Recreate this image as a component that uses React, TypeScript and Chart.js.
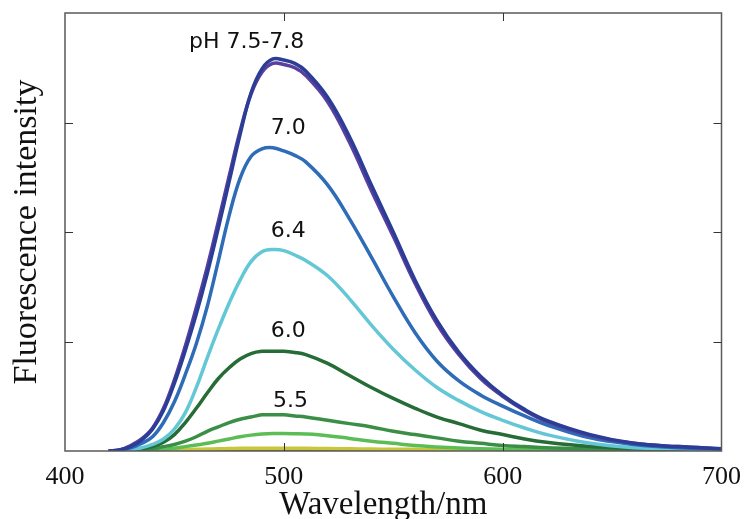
import React, { useEffect, useRef } from "react";
import { Chart, registerables } from "chart.js";

Chart.register(...registerables);

// Wavelength grid (nm)
const wavelengths = [420, 425, 430, 435, 440, 445, 450, 455, 460, 465, 470, 475, 480, 485, 490, 495, 500, 505, 510, 520, 530, 540, 550, 560, 570, 580, 590, 600, 610, 620, 640, 660, 680, 700];

// Fluorescence intensity (arbitrary units, axis 0..4)
const ph78 = [0, 0.01, 0.04, 0.1, 0.2, 0.37, 0.62, 0.92, 1.25, 1.62, 2.03, 2.46, 2.89, 3.27, 3.49, 3.58, 3.57, 3.54, 3.47, 3.23, 2.87, 2.43, 2.0, 1.56, 1.19, 0.9, 0.68, 0.51, 0.38, 0.28, 0.15, 0.07, 0.04, 0.02];
const ph75 = [0, 0.01, 0.05, 0.11, 0.21, 0.39, 0.65, 0.96, 1.31, 1.68, 2.09, 2.51, 2.92, 3.26, 3.46, 3.54, 3.53, 3.5, 3.43, 3.19, 2.82, 2.38, 1.96, 1.53, 1.16, 0.88, 0.66, 0.5, 0.37, 0.27, 0.14, 0.07, 0.04, 0.02];
const ph70 = [0, 0.01, 0.03, 0.07, 0.13, 0.26, 0.45, 0.7, 0.98, 1.32, 1.73, 2.15, 2.49, 2.69, 2.76, 2.77, 2.74, 2.7, 2.64, 2.43, 2.12, 1.77, 1.41, 1.08, 0.82, 0.64, 0.51, 0.41, 0.32, 0.24, 0.12, 0.06, 0.03, 0.02];
const ph64 = [0, 0, 0.01, 0.03, 0.06, 0.11, 0.2, 0.35, 0.58, 0.85, 1.11, 1.35, 1.56, 1.73, 1.82, 1.84, 1.83, 1.79, 1.74, 1.6, 1.39, 1.15, 0.93, 0.74, 0.58, 0.46, 0.36, 0.28, 0.21, 0.15, 0.07, 0.03, 0.02, 0.01];
const ph60 = [0, 0, 0.01, 0.02, 0.04, 0.08, 0.15, 0.26, 0.39, 0.53, 0.66, 0.76, 0.84, 0.89, 0.91, 0.91, 0.91, 0.9, 0.88, 0.8, 0.69, 0.58, 0.48, 0.39, 0.31, 0.25, 0.19, 0.15, 0.11, 0.08, 0.04, 0.02, 0.01, 0.01];
const ph55 = [0, 0, 0.005, 0.01, 0.02, 0.04, 0.06, 0.09, 0.13, 0.18, 0.22, 0.26, 0.29, 0.31, 0.33, 0.33, 0.33, 0.32, 0.31, 0.28, 0.25, 0.22, 0.18, 0.15, 0.12, 0.09, 0.07, 0.05, 0.04, 0.03, 0.02, 0.01, 0.005, 0];
const ph50 = [0, 0, 0, 0.005, 0.01, 0.015, 0.025, 0.04, 0.055, 0.07, 0.09, 0.11, 0.13, 0.145, 0.155, 0.16, 0.16, 0.158, 0.155, 0.14, 0.115, 0.09, 0.07, 0.05, 0.037, 0.027, 0.02, 0.015, 0.012, 0.01, 0.007, 0.005, 0.003, 0];
const ph45 = [0, 0, 0, 0.002, 0.005, 0.008, 0.01, 0.013, 0.016, 0.018, 0.02, 0.022, 0.024, 0.025, 0.025, 0.025, 0.025, 0.025, 0.024, 0.022, 0.02, 0.018, 0.016, 0.015, 0.013, 0.011, 0.01, 0.009, 0.007, 0.006, 0.004, 0.003, 0.002, 0];
const ph40 = [0, 0, 0, 0.001, 0.002, 0.003, 0.004, 0.005, 0.006, 0.007, 0.008, 0.008, 0.009, 0.009, 0.009, 0.009, 0.009, 0.009, 0.009, 0.008, 0.008, 0.007, 0.006, 0.005, 0.005, 0.004, 0.003, 0.003, 0.002, 0.002, 0.001, 0.001, 0, 0];

const seriesValues = [ph78, ph75, ph70, ph64, ph60, ph55, ph50, ph45, ph40];
const seriesNames = ["pH 7.8", "pH 7.5", "pH 7.0", "pH 6.4", "pH 6.0", "pH 5.5", "pH 5.0", "pH 4.5", "pH 4.0"];
const seriesColors = ["#2b3d96", "#5a3f9e", "#2e6cb8", "#63c7d6", "#266c36", "#3a8e45", "#5dbd55", "#c9c63c", "#8a7535"];

const xTicks = [400, 500, 600, 700];
const yTicks = [1, 2, 3];
const xTitle = "Wavelength/nm";
const yTitle = "Fluorescence intensity";

// curve annotations: text, wavelength, intensity
const labelTexts = ["pH 7.5-7.8", "7.0", "6.4", "6.0", "5.5"];
const labelWavelengths = [483, 502, 502, 502, 503];
const labelIntensities = [3.73, 2.95, 2.01, 1.09, 0.45];

const framePlugin = {
  id: "frameTicks",
  afterDatasetsDraw(chart: any) {
    const { ctx, chartArea } = chart;
    const xs = chart.scales.x;
    const ys = chart.scales.y;
    const { left, right, top, bottom } = chartArea;
    ctx.save();
    ctx.strokeStyle = "#5a5a5a";
    ctx.lineWidth = 1.5;
    ctx.strokeRect(left, top, right - left, bottom - top);
    ctx.strokeStyle = "#333";
    ctx.lineWidth = 1;
    const tl = 8;
    ctx.beginPath();
    xTicks.forEach((v) => {
      const px = Math.round(xs.getPixelForValue(v)) + 0.5;
      if (px <= left + 2 || px >= right - 2) return;
      ctx.moveTo(px, bottom);
      ctx.lineTo(px, bottom - tl);
      ctx.moveTo(px, top);
      ctx.lineTo(px, top + tl);
    });
    yTicks.forEach((v) => {
      const py = Math.round(ys.getPixelForValue(v)) + 0.5;
      ctx.moveTo(left, py);
      ctx.lineTo(left + tl, py);
      ctx.moveTo(right, py);
      ctx.lineTo(right - tl, py);
    });
    ctx.stroke();

    ctx.fillStyle = "#111";
    ctx.font = '22px "DejaVu Sans"';
    ctx.textAlign = "center";
    ctx.textBaseline = "middle";
    labelTexts.forEach((t, i) => {
      ctx.fillText(t, xs.getPixelForValue(labelWavelengths[i]), ys.getPixelForValue(labelIntensities[i]));
    });

    // x-axis title, centred slightly left of the plot centre as in the original
    ctx.font = '33px "Liberation Serif"';
    ctx.textBaseline = "alphabetic";
    ctx.fillText(xTitle, (left + right) / 2 - 10, 514);
    ctx.restore();
  },
};

export default function App() {
  const ref = useRef<HTMLCanvasElement | null>(null);
  useEffect(() => {
    if (!ref.current) return;
    const datasets = seriesValues.map((vals, i) => ({
      label: seriesNames[i],
      data: vals.map((v, j) => ({ x: wavelengths[j], y: v })),
      borderColor: seriesColors[i],
      backgroundColor: seriesColors[i],
      borderWidth: 3.5,
      pointRadius: 0,
      tension: 0.4,
      fill: false,
    }));
    const chart = new Chart(ref.current, {
      type: "line",
      data: { datasets },
      options: {
        animation: false,
        responsive: false,
        layout: { padding: { top: 13, right: 22, left: 0, bottom: 0 } },
        plugins: { legend: { display: false }, tooltip: { enabled: false } },
        scales: {
          x: {
            type: "linear",
            min: 400,
            max: 700,
            afterFit: (s: any) => {
              s.height = 68;
            },
            afterBuildTicks: (s: any) => {
              s.ticks = xTicks.map((v) => ({ value: v }));
            },
            grid: { display: false },
            border: { display: false },
            ticks: {
              color: "#111",
              font: { family: "Liberation Serif", size: 26 },
              padding: 3,
              maxRotation: 0,
            },
            title: { display: false },
          },
          y: {
            type: "linear",
            min: 0,
            max: 4,
            afterFit: (s: any) => {
              s.width = 65;
            },
            grid: { display: false },
            border: { display: false },
            ticks: { display: false },
            title: {
              display: true,
              text: yTitle,
              color: "#111",
              font: { family: "Liberation Serif", size: 34, lineHeight: 1.2 },
              padding: { top: 7, bottom: 0 },
            },
          },
        },
      },
      plugins: [framePlugin],
    });
    return () => chart.destroy();
  }, []);
  return (
    <div style={{ position: "absolute", left: 0, top: 0, width: 744, height: 519, background: "#fff" }}>
      <canvas ref={ref} width={744} height={519} />
    </div>
  );
}
